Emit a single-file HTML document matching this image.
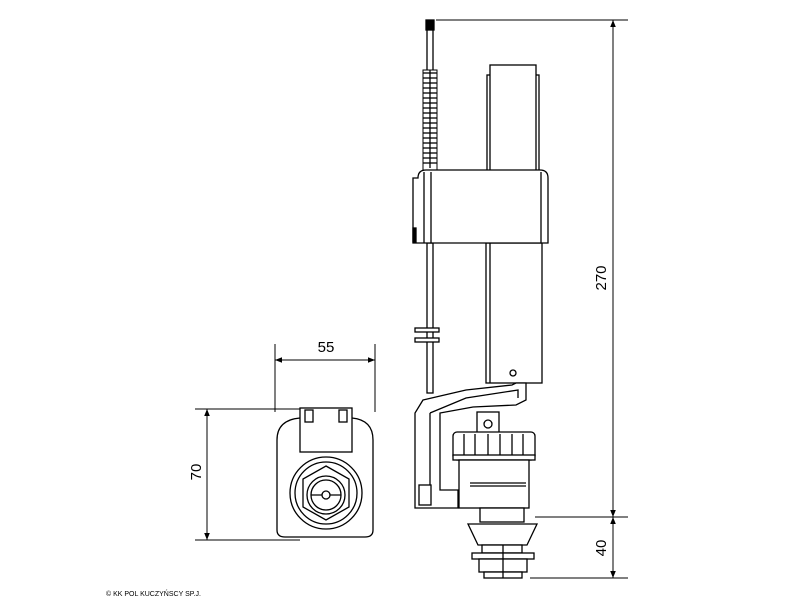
<!DOCTYPE html>
<html><head><style>
html,body{margin:0;padding:0;background:#fff;}
svg{display:block;}
text{font-family:"Liberation Sans",sans-serif;}
</style></head><body>
<svg width="800" height="600" viewBox="0 0 800 600" xmlns="http://www.w3.org/2000/svg">
<defs>
<marker id="a" viewBox="0 0 10 10" refX="10" refY="5" markerWidth="7" markerHeight="7" orient="auto-start-reverse"><path d="M0,1 L10,5 L0,9 z" fill="#000"/></marker>
</defs>
<g stroke="#000" fill="none" stroke-width="1">
<!-- dimensions -->
<line x1="436" y1="20" x2="628" y2="20"/>
<line x1="613" y1="20" x2="613" y2="517" marker-start="url(#a)" marker-end="url(#a)"/>
<line x1="535" y1="517" x2="628" y2="517"/>
<line x1="613" y1="517" x2="613" y2="578" marker-start="url(#a)" marker-end="url(#a)"/>
<line x1="530" y1="578" x2="628" y2="578"/>
<line x1="275" y1="344" x2="275" y2="412"/>
<line x1="375" y1="344" x2="375" y2="412"/>
<line x1="275" y1="360" x2="375" y2="360" marker-start="url(#a)" marker-end="url(#a)"/>
<line x1="195" y1="409" x2="318" y2="409"/>
<line x1="195" y1="540" x2="300" y2="540"/>
<line x1="207" y1="409" x2="207" y2="540" marker-start="url(#a)" marker-end="url(#a)"/>
</g>
<text x="326" y="352" font-size="15" text-anchor="middle">55</text>
<text transform="translate(201,472) rotate(-90)" font-size="15" text-anchor="middle">70</text>
<text transform="translate(606,278) rotate(-90)" font-size="15" text-anchor="middle">270</text>
<text transform="translate(606,548) rotate(-90)" font-size="15" text-anchor="middle">40</text>
<text x="106" y="596" font-size="7">© KK POL KUCZYŃSCY SP.J.</text>

<!-- left view -->
<g stroke="#000" fill="#fff" stroke-width="1.3">
<path d="M277,440 Q277,420 300,418 L352,418 Q373,420 373,440 L373,530 Q373,537 365,537 L285,537 Q277,537 277,530 Z"/>
<rect x="300" y="408" width="52" height="44"/>
<rect x="305" y="410" width="8" height="12"/><rect x="339" y="410" width="8" height="12"/>
<circle cx="326" cy="493" r="36"/>
<circle cx="326" cy="493" r="31"/>
<polygon points="326,466 349,479 349,507 326,520 303,507 303,479"/>
<circle cx="326" cy="495" r="19"/>
<circle cx="326" cy="495" r="15"/>
<line x1="311" y1="495" x2="341" y2="495"/>
<circle cx="326" cy="495" r="4"/>
</g>

<!-- main view -->
<g stroke="#000" fill="#fff" stroke-width="1.3">
<rect x="426" y="20" width="8" height="10" fill="#000"/>
<rect x="427" y="30" width="6" height="150"/>
<g stroke-width="1">
<rect x="423" y="70" width="14" height="100" fill="#fff"/>
</g>
<line x1="423" y1="73" x2="437" y2="73"/><line x1="423" y1="78" x2="437" y2="78"/><line x1="423" y1="83" x2="437" y2="83"/><line x1="423" y1="88" x2="437" y2="88"/><line x1="423" y1="93" x2="437" y2="93"/><line x1="423" y1="98" x2="437" y2="98"/><line x1="423" y1="103" x2="437" y2="103"/><line x1="423" y1="108" x2="437" y2="108"/><line x1="423" y1="113" x2="437" y2="113"/><line x1="423" y1="118" x2="437" y2="118"/><line x1="423" y1="123" x2="437" y2="123"/><line x1="423" y1="128" x2="437" y2="128"/><line x1="423" y1="133" x2="437" y2="133"/><line x1="423" y1="138" x2="437" y2="138"/><line x1="423" y1="143" x2="437" y2="143"/><line x1="423" y1="148" x2="437" y2="148"/><line x1="423" y1="153" x2="437" y2="153"/><line x1="423" y1="158" x2="437" y2="158"/><line x1="423" y1="163" x2="437" y2="163"/>
<line x1="430" y1="70" x2="430" y2="168"/>
<rect x="487" y="75" width="52" height="100"/>
<rect x="490" y="65" width="46" height="110"/>
<rect x="427" y="243" width="6" height="150"/>
<rect x="415" y="328" width="24" height="4"/><rect x="415" y="338" width="24" height="4"/>
<rect x="486" y="243" width="56" height="140"/>
<line x1="490" y1="243" x2="490" y2="383"/>
<circle cx="513" cy="373" r="3"/>
<path d="M418,178 Q418,170 426,170 L540,170 Q548,170 548,178 L548,243 L413,243 L413,178 Z"/>
<line x1="424" y1="172" x2="424" y2="243"/><line x1="431" y1="172" x2="431" y2="243"/><line x1="541" y1="172" x2="541" y2="243"/>
<rect x="413" y="228" width="3" height="14" fill="#000"/>
<path d="M423,400 L466,390 L512,385 L516,383 L526,383 L526,400 L516,405 L473,407 L440,413 L440,490 L458,490 L458,508 L415,508 L415,413 Z"/>
<path d="M430,413 L466,398 L518,390 L518,398"/>
<line x1="430" y1="413" x2="430" y2="492"/>
<rect x="419" y="485" width="12" height="20"/>
<rect x="477" y="412" width="22" height="22"/>
<circle cx="488" cy="424" r="4"/>
<rect x="453" y="432" width="82" height="28" rx="4"/>
<line x1="464" y1="434" x2="464" y2="456"/><line x1="475" y1="434" x2="475" y2="456"/><line x1="488" y1="434" x2="488" y2="456"/><line x1="500" y1="434" x2="500" y2="456"/><line x1="512" y1="434" x2="512" y2="456"/><line x1="523" y1="434" x2="523" y2="456"/>
<rect x="453" y="455" width="82" height="5"/>
<rect x="459" y="460" width="70" height="48"/>
<line x1="470" y1="483" x2="526" y2="483"/><line x1="470" y1="486" x2="526" y2="486"/>
<rect x="480" y="508" width="44" height="14"/>
<path d="M468,524 L537,524 L527,545 L478,545 Z"/>
<rect x="482" y="545" width="40" height="8"/>
<rect x="472" y="553" width="62" height="6"/>
<rect x="479" y="559" width="48" height="13"/>
<rect x="484" y="572" width="38" height="6"/>
<line x1="503" y1="545" x2="503" y2="578"/>
</g>
</svg>
</body></html>
